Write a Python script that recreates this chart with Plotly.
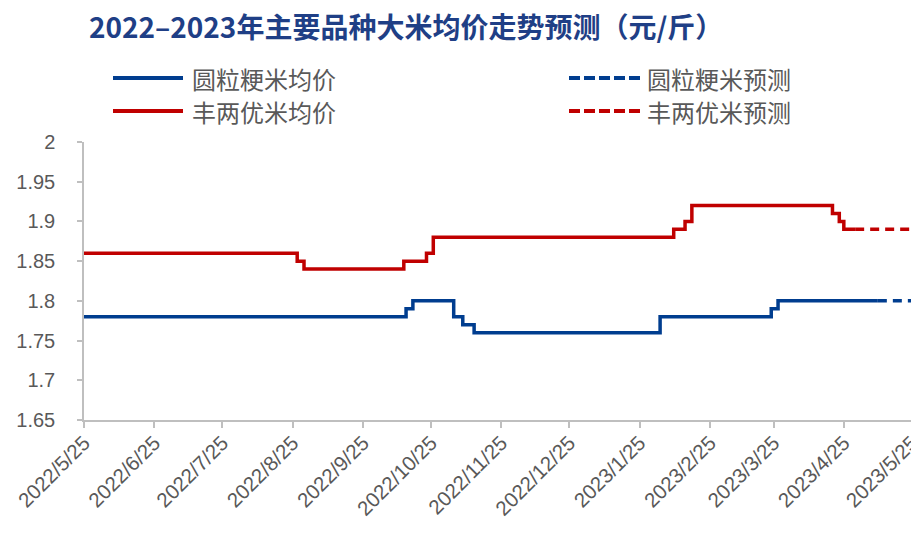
import plotly.graph_objects as go

# ---- data ----
title_text = "2022–2023年主要品种大米均价走势预测（元/斤）"

# 圆粒粳米均价 (step change points)
japonica_dates = ["2022-05-25", "2022-10-14", "2022-10-17", "2022-11-04", "2022-11-08",
                  "2022-11-13", "2023-02-03", "2023-03-24", "2023-03-27", "2023-05-10"]
japonica_vals = [1.78, 1.79, 1.80, 1.78, 1.77, 1.76, 1.78, 1.79, 1.80, 1.80]
# 圆粒粳米预测
japonica_fc_dates = ["2023-05-10", "2023-05-26"]
japonica_fc_vals = [1.80, 1.80]

# 丰两优米均价
fly_dates = ["2022-05-25", "2022-08-27", "2022-08-30", "2022-10-13", "2022-10-23",
             "2022-10-26", "2023-02-09", "2023-02-14", "2023-02-17", "2023-04-20",
             "2023-04-23", "2023-04-25", "2023-04-30"]
fly_vals = [1.86, 1.85, 1.84, 1.85, 1.86, 1.88, 1.89, 1.90, 1.92, 1.91, 1.90, 1.89, 1.89]
# 丰两优米预测
fly_fc_dates = ["2023-04-30", "2023-05-26"]
fly_fc_vals = [1.89, 1.89]

x_tick_dates = ["2022-05-25", "2022-06-25", "2022-07-25", "2022-08-25", "2022-09-25",
                "2022-10-25", "2022-11-25", "2022-12-25", "2023-01-25", "2023-02-25",
                "2023-03-25", "2023-04-25", "2023-05-25"]
x_tick_labels = ["2022/5/25", "2022/6/25", "2022/7/25", "2022/8/25", "2022/9/25",
                 "2022/10/25", "2022/11/25", "2022/12/25", "2023/1/25", "2023/2/25",
                 "2023/3/25", "2023/4/25", "2023/5/25"]
y_tick_vals = [1.65, 1.7, 1.75, 1.8, 1.85, 1.9, 1.95, 2.0]
y_tick_labels = ["1.65", "1.7", "1.75", "1.8", "1.85", "1.9", "1.95", "2"]

legend_names = ["圆粒粳米均价", "圆粒粳米预测", "丰两优米均价", "丰两优米预测"]

# ---- style ----
BLUE = "#003D8F"
RED = "#C00000"
GRAY_TXT = "#595959"
AXIS = "#BFBFBF"
OFF = 8  # page body margin
W, H = 919 - OFF, 534 - OFF
# plot area in page pixels: x 84..913, y 142..420
L = 84 - OFF
T = 142 - OFF
R = W - (913 - OFF)
B = H - (420 - OFF)
PW, PH = W - L - R, H - T - B

fig = go.Figure()
fig.add_trace(go.Scatter(x=japonica_dates, y=japonica_vals, mode="lines", line_shape="hv",
                         line=dict(color=BLUE, width=3.5), name=legend_names[0],
                         cliponaxis=False))
fig.add_trace(go.Scatter(x=japonica_fc_dates, y=japonica_fc_vals, mode="lines",
                         line=dict(color=BLUE, width=3.5, dash="9px,6px"), name=legend_names[1],
                         cliponaxis=False))
fig.add_trace(go.Scatter(x=fly_dates, y=fly_vals, mode="lines", line_shape="hv",
                         line=dict(color=RED, width=3.5), name=legend_names[2],
                         cliponaxis=False))
fig.add_trace(go.Scatter(x=fly_fc_dates, y=fly_fc_vals, mode="lines",
                         line=dict(color=RED, width=3.5, dash="9px,6px"), name=legend_names[3],
                         cliponaxis=False))


def px_x(px):  # page px -> paper
    return (px - OFF - L) / PW


def px_y(py):
    return (H - B - (py - OFF)) / PH


# manual legend (page pixel positions)
legend_items = [
    (113, 183, 78, 190, BLUE, "solid", legend_names[0]),
    (569, 640, 78, 645, BLUE, "11px,4px", legend_names[1]),
    (113, 183, 111, 190, RED, "solid", legend_names[2]),
    (569, 640, 111, 645, RED, "11px,4px", legend_names[3]),
]
shapes = []
annotations = []
for x0, x1, yy, tx, col, dash, name in legend_items:
    shapes.append(dict(type="line", xref="paper", yref="paper",
                       x0=px_x(x0), x1=px_x(x1), y0=px_y(yy), y1=px_y(yy),
                       line=dict(color=col, width=4, dash=dash)))
    annotations.append(dict(xref="paper", yref="paper", x=px_x(tx), y=px_y(yy),
                            xanchor="left", yanchor="middle", showarrow=False,
                            text=name, font=dict(size=24, color=GRAY_TXT,
                                                 family="Noto Sans CJK SC")))

# title as annotation
annotations.append(dict(xref="paper", yref="paper", x=px_x(89), y=px_y(26),
                        xanchor="left", yanchor="middle", showarrow=False,
                        borderpad=0, borderwidth=0,
                        text="<b>" + title_text + "</b>",
                        font=dict(size=28, color="#1F3F86", family="Noto Sans CJK SC")))

fig.update_layout(
    width=W, height=H,
    margin=dict(l=L, r=R, t=T, b=B, autoexpand=False),
    paper_bgcolor="white", plot_bgcolor="white",
    showlegend=False,
    shapes=shapes,
    annotations=annotations,
    xaxis=dict(type="date", range=["2022-05-25", "2023-05-25 12:00"], automargin=False,
               tickvals=x_tick_dates, ticktext=x_tick_labels, tickangle=-45,
               ticklabeloverflow="allow",
               showgrid=False, zeroline=False,
               showline=True, linecolor=AXIS, linewidth=1.5,
               ticks="outside", ticklen=6, tickcolor=AXIS, tickwidth=1.5,
               ticklabelstandoff=-5,
               tickfont=dict(size=20.5, color=GRAY_TXT, family="Liberation Sans")),
    yaxis=dict(range=[1.65, 2.0], tickvals=y_tick_vals, ticktext=y_tick_labels,
               automargin=False,
               showgrid=False, zeroline=False,
               showline=True, linecolor=AXIS, linewidth=1.5,
               ticks="outside", ticklen=5, tickcolor=AXIS, tickwidth=1.5,
               ticklabelstandoff=18,
               tickfont=dict(size=20, color=GRAY_TXT, family="Liberation Sans")),
)

fig.write_html("out.html")
